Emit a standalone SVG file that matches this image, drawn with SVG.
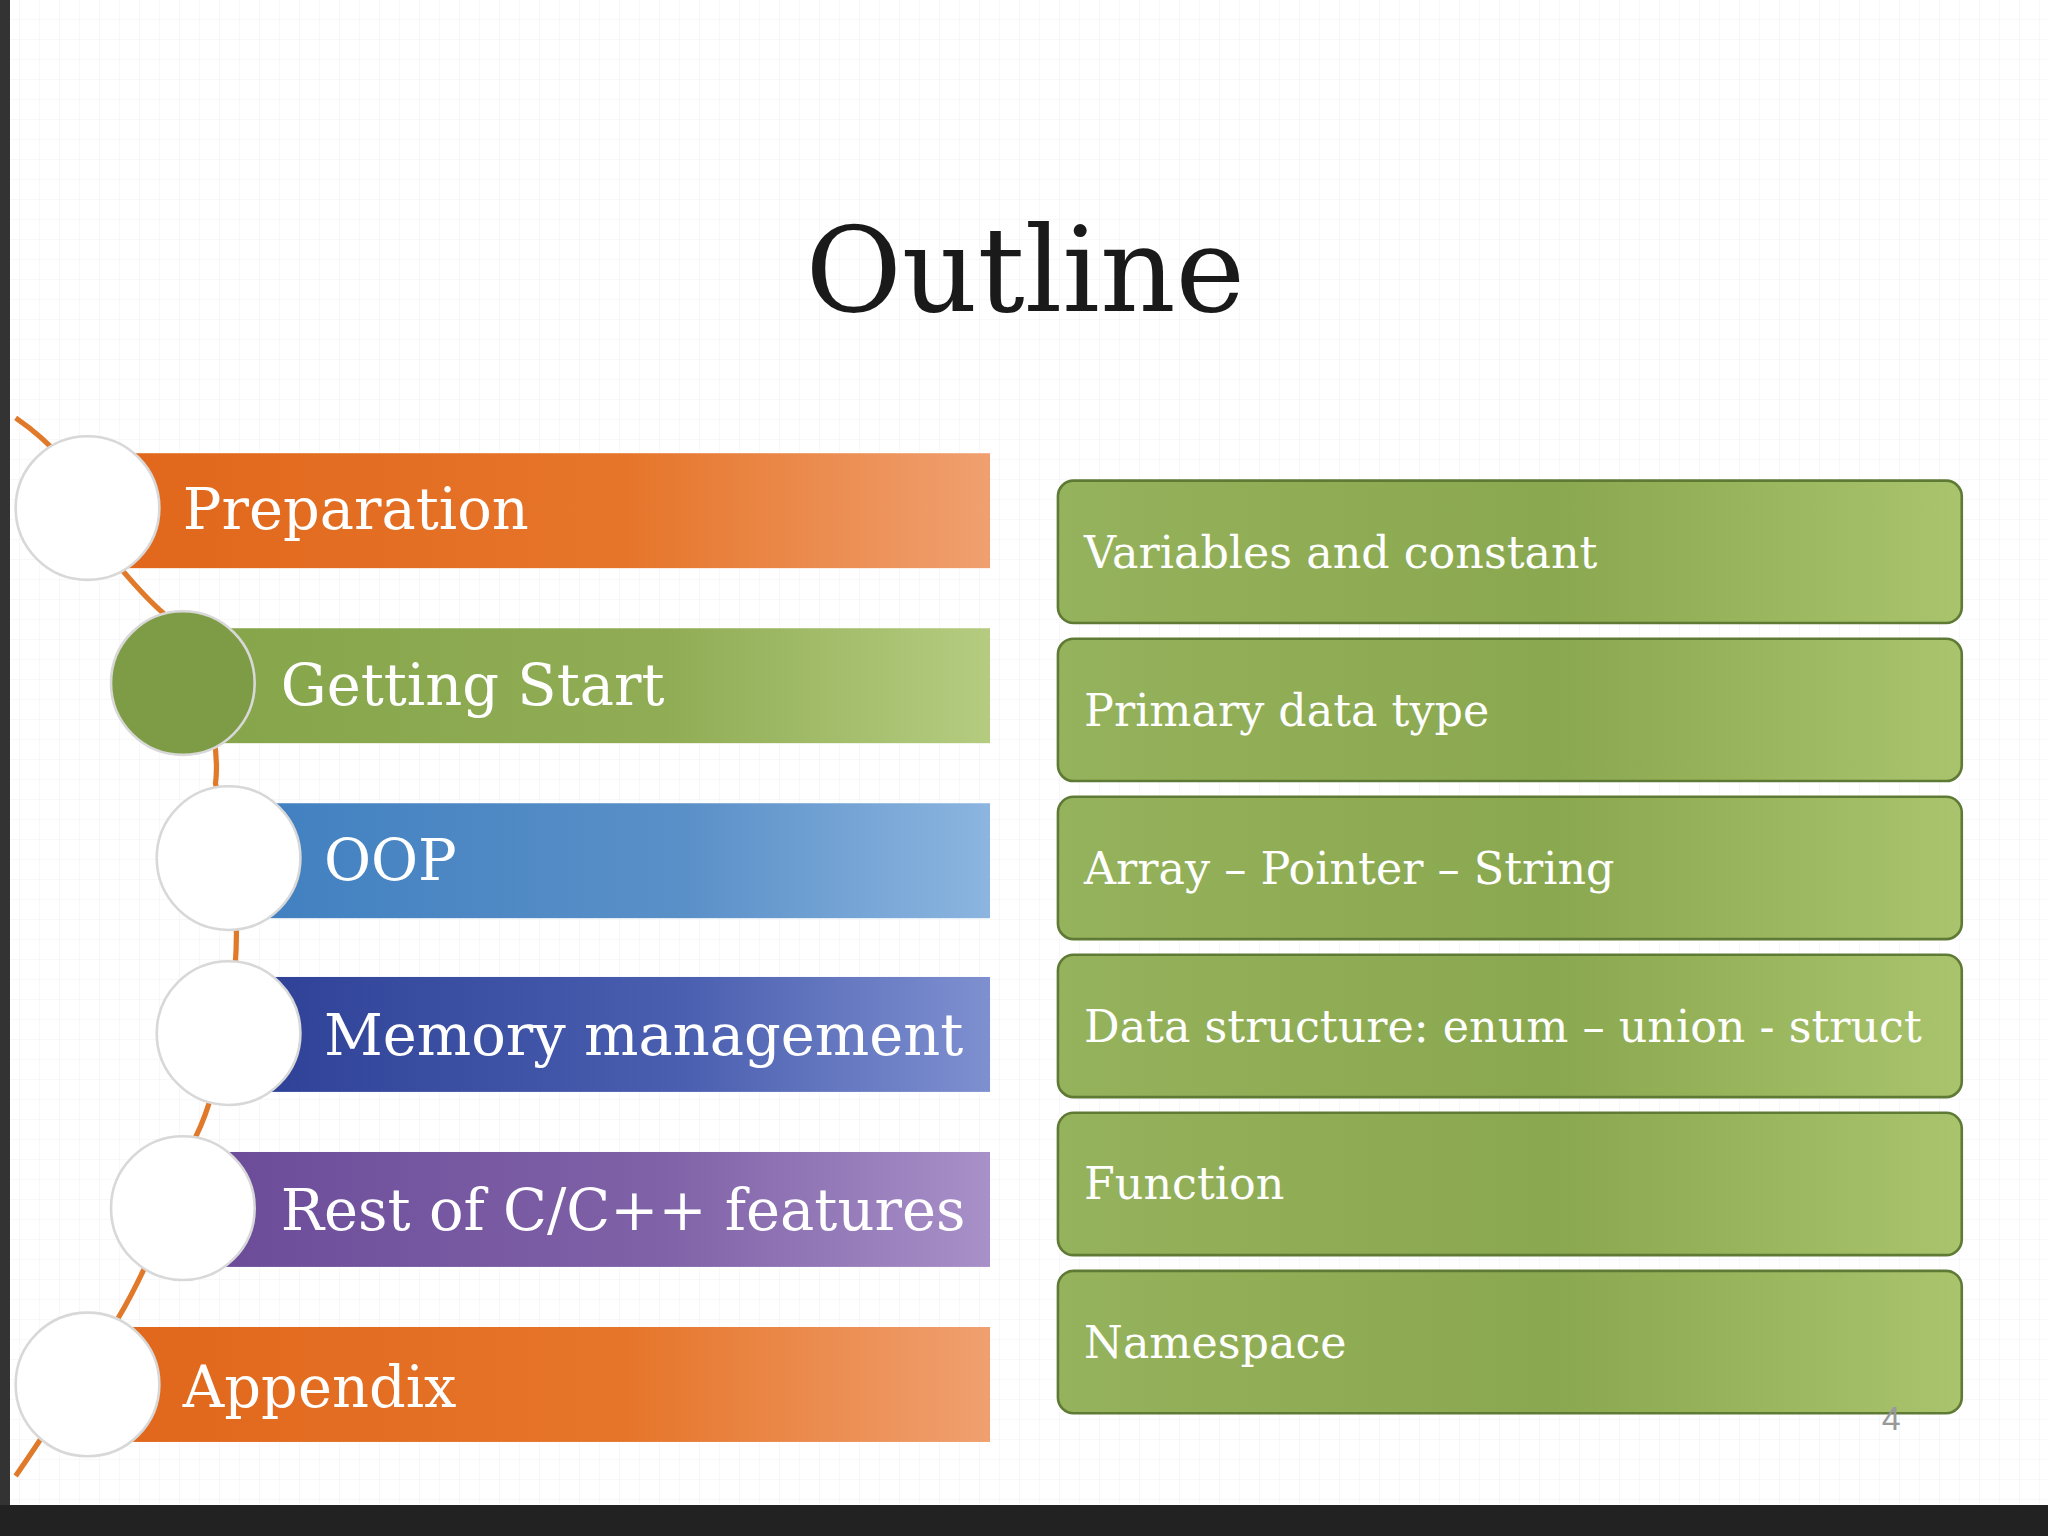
<svg xmlns="http://www.w3.org/2000/svg" width="2048" height="1536" viewBox="0 0 2048 1536">
<defs>
<pattern id="grid" width="20" height="20" patternUnits="userSpaceOnUse"><path d="M20 0V20H0" fill="none" stroke="#eef0f2" stroke-width="1"/></pattern>
<linearGradient id="or" x1="0" y1="0" x2="1" y2="0"><stop offset="0" stop-color="#e0661a"/><stop offset="0.6" stop-color="#e6752a"/><stop offset="1" stop-color="#f0a070"/></linearGradient>
<linearGradient id="gr" x1="0" y1="0" x2="1" y2="0"><stop offset="0" stop-color="#86a54a"/><stop offset="0.6" stop-color="#90ad55"/><stop offset="1" stop-color="#b5cc80"/></linearGradient>
<linearGradient id="bl" x1="0" y1="0" x2="1" y2="0"><stop offset="0" stop-color="#3f7fc0"/><stop offset="0.6" stop-color="#5a90c8"/><stop offset="1" stop-color="#8cb5e0"/></linearGradient>
<linearGradient id="db" x1="0" y1="0" x2="1" y2="0"><stop offset="0" stop-color="#2c3f95"/><stop offset="0.6" stop-color="#4a5fb0"/><stop offset="1" stop-color="#7f90d0"/></linearGradient>
<linearGradient id="pu" x1="0" y1="0" x2="1" y2="0"><stop offset="0" stop-color="#6a4a98"/><stop offset="0.6" stop-color="#8062a8"/><stop offset="1" stop-color="#a890c8"/></linearGradient>
<linearGradient id="rg" x1="0" y1="0" x2="1" y2="0"><stop offset="0" stop-color="#95b25c"/><stop offset="0.55" stop-color="#8aa84f"/><stop offset="1" stop-color="#a9c46c"/></linearGradient>
</defs>
<style>
.lt{font-family:"DejaVu Serif","Liberation Serif",serif;font-size:44px;fill:#ffffff}
.rt{font-family:"DejaVu Serif","Liberation Serif",serif;font-size:34px;fill:#ffffff}
.circ{fill:#ffffff;stroke:#d8d8d8;stroke-width:2}
.rb{stroke:#5f7a35;stroke-width:2}
</style>
<rect width="2048" height="1536" fill="#ffffff"/>
<rect width="2048" height="1536" fill="url(#grid)"/>
<rect x="0" y="0" width="10" height="1536" fill="#333"/>
<rect x="0" y="1505" width="2048" height="31" fill="#222"/>
<g transform="scale(1.3061)">
<text x="785" y="238" text-anchor="middle" font-family="DejaVu Serif, Liberation Serif, serif" font-size="90" fill="#1a1a1a">Outline</text>
<g id="connectors">
<path d="M12 320 Q70 360 80 420 Q120 470 140 480 Q170 560 165 600 Q185 680 180 740 Q170 830 150 870 Q120 960 90 1010 Q40 1090 12 1130" fill="none" stroke="#e07a2a" stroke-width="4"/>
</g>
<g id="n1"><rect x="60" y="347" width="698" height="88" fill="url(#or)"/><circle cx="67" cy="389" r="55" class="circ" stroke="#e0a070"/><text x="140" y="405" class="lt">Preparation</text></g>
<g id="n2"><rect x="140" y="481" width="618" height="88" fill="url(#gr)"/><circle cx="140" cy="523" r="55" fill="#7d9c45" stroke="#d8d8d8" stroke-width="2"/><text x="215" y="540" class="lt">Getting Start</text></g>
<g id="n3"><rect x="175" y="615" width="583" height="88" fill="url(#bl)"/><circle cx="175" cy="657" r="55" class="circ"/><text x="248" y="674" class="lt">OOP</text></g>
<g id="n4"><rect x="175" y="748" width="583" height="88" fill="url(#db)"/><circle cx="175" cy="791" r="55" class="circ"/><text x="248" y="808" class="lt">Memory management</text></g>
<g id="n5"><rect x="140" y="882" width="618" height="88" fill="url(#pu)"/><circle cx="140" cy="925" r="55" class="circ"/><text x="215" y="942" class="lt">Rest of C/C++ features</text></g>
<g id="n6"><rect x="60" y="1016" width="698" height="88" fill="url(#or)"/><circle cx="67" cy="1060" r="55" class="circ" stroke="#e0a070"/><text x="140" y="1077" class="lt">Appendix</text></g>
<g id="r1"><rect x="810" y="368" width="692" height="109" rx="12" fill="url(#rg)" class="rb"/><text x="830" y="435" class="rt">Variables and constant</text></g>
<g id="r2"><rect x="810" y="489" width="692" height="109" rx="12" fill="url(#rg)" class="rb"/><text x="830" y="556" class="rt">Primary data type</text></g>
<g id="r3"><rect x="810" y="610" width="692" height="109" rx="12" fill="url(#rg)" class="rb"/><text x="830" y="677" class="rt">Array – Pointer – String</text></g>
<g id="r4"><rect x="810" y="731" width="692" height="109" rx="12" fill="url(#rg)" class="rb"/><text x="830" y="798" class="rt">Data structure: enum – union - struct</text></g>
<g id="r5"><rect x="810" y="852" width="692" height="109" rx="12" fill="url(#rg)" class="rb"/><text x="830" y="918" class="rt">Function</text></g>
<g id="r6"><rect x="810" y="973" width="692" height="109" rx="12" fill="url(#rg)" class="rb"/><text x="830" y="1040" class="rt">Namespace</text></g>
<text x="1448" y="1095" text-anchor="middle" font-family="Liberation Sans, sans-serif" font-size="26" fill="#999">4</text>
</g>
</svg>
